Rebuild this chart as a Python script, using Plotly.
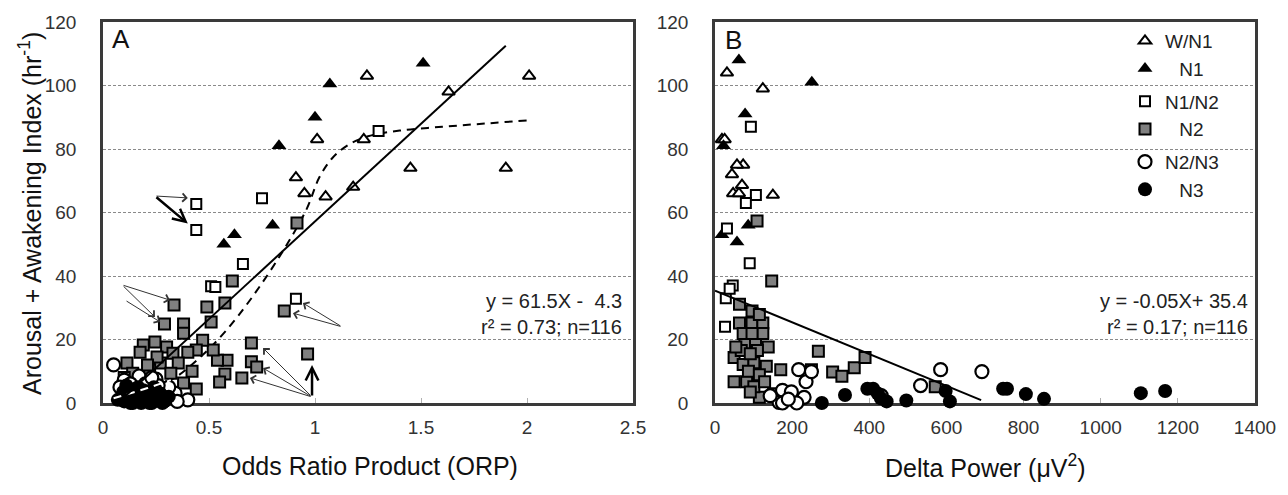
import plotly.graph_objects as go

# ---------------- Panel A : ORP ----------------
a_wn1_x = [1.245, 2.01, 1.63, 1.01, 1.23, 0.91, 0.95, 1.05, 1.18, 1.45, 1.90]
a_wn1_y = [103, 103, 98, 83, 83, 71, 66, 65, 68, 74, 74]
a_n1_x = [1.07, 1.51, 1.00, 0.83, 0.80, 0.57, 0.62]
a_n1_y = [100.5, 107, 90, 81, 56, 50, 53]
a_n1n2_x = [0.44, 0.44, 0.75, 0.66, 0.51, 0.53, 0.91, 1.30]
a_n1n2_y = [62.7, 54.5, 64.5, 43.8, 36.8, 36.5, 32.8, 85.7]
a_n2_x = [0.915, 0.61, 0.575, 0.49, 0.51, 0.335, 0.29, 0.38, 0.38, 0.855, 0.70, 0.70, 0.725,
          0.655, 0.965, 0.585, 0.575, 0.55, 0.54, 0.52, 0.47, 0.44, 0.40, 0.44, 0.245, 0.19,
          0.175, 0.30, 0.33, 0.355, 0.27, 0.113, 0.14, 0.22, 0.32, 0.38, 0.10, 0.255, 0.21, 0.42]
a_n2_y = [56.7, 38.4, 31.5, 30.2, 25.5, 30.9, 24.9, 24.9, 22, 29, 18.9, 13, 11.3,
          7.9, 15.4, 13.5, 9.1, 6.6, 13.5, 16.7, 19.8, 16.7, 16, 4.4, 19.2, 18.3,
          16, 17.6, 15.7, 12.6, 12.6, 12.6, 9.4, 10.4, 9.4, 6.3, 8, 14.5, 12, 10]
a_n2n3_x = [0.05, 0.40, 0.34, 0.31, 0.10, 0.17, 0.25, 0.20, 0.12, 0.08, 0.28, 0.22, 0.15, 0.35,
            0.13, 0.18, 0.26, 0.23]
a_n2n3_y = [12, 1, 3.1, 5, 7.2, 8.5, 7.5, 6, 4, 5, 2, 2, 1, 0.5,
            6, 3, 5.5, 8]
a_n3_x = [0.095, 0.12, 0.20, 0.23, 0.165, 0.25, 0.09, 0.15, 0.215, 0.26, 0.31, 0.11, 0.18, 0.28,
          0.24, 0.22, 0.13, 0.07, 0.14, 0.17, 0.19, 0.27, 0.10, 0.205, 0.29]
a_n3_y = [3.5, 1, 1, 0, 5, 4, 2, 2.5, 3.5, 1, 2, 5.5, 0, 0,
          5, 0, 0, 1, 0, 2, 4, 3, 0.5, 3, 0.5]

fitA_x = [0.07, 1.90]
fitA_y = [0.0, 112.55]
sigA_x = [0.05, 0.21, 0.32, 0.46, 0.57, 0.70, 0.85, 0.96, 1.02, 1.08, 1.15, 1.25, 1.40, 1.60, 1.80, 2.00]
sigA_y = [1.5, 4.7, 7.2, 14.5, 22, 33, 48, 61, 71, 77, 81, 84, 85.8, 87, 88, 89]

# ---------------- Panel B : Delta power ----------------
b_wn1_x = [31, 124, 18, 25, 73, 57, 44, 70, 47, 150, 62]
b_wn1_y = [104, 99, 83, 83, 75, 75, 72, 68.6, 66, 65.5, 66]
b_n1_x = [62, 251, 78, 22, 86, 18, 57]
b_n1_y = [108, 101, 91, 81, 56, 53, 50.7]
b_n1n2_x = [93, 106, 80, 31, 90, 28, 46, 38, 26]
b_n1n2_y = [87, 65.5, 63, 55, 44, 33, 37, 36, 24]
b_n2_x = [147, 63.5, 96, 96, 63.5, 124, 77.5, 105, 138, 49.5, 73, 100.7, 133, 170.5, 268, 305, 329,
          361, 389, 571, 250, 49.5, 82, 115, 152, 100.7, 86.7, 110, 68, 54, 91.5, 115, 128.6, 91.5,
          73, 124, 96, 115, 109]
b_n2_y = [38.4, 31.1, 29, 25.2, 25.2, 25.2, 18.6, 19.2, 17.6, 14.3, 12.1, 12.7, 11.6, 10.5, 16.3, 9.8, 8.4,
          11.1, 14.3, 5.1, 10.5, 6.7, 6.7, 1.8, 2.9, 5.1, 10, 16.5, 16.5, 17.6, 15.5, 8.9, 6.7, 3.5,
          21.9, 21.9, 21.9, 27.9, 57.3]
b_n2n3_x = [217, 236, 250, 585, 692, 533, 431, 175, 198, 231, 166, 212, 175, 190, 143]
b_n2n3_y = [10.5, 6.7, 9.9, 10.5, 9.9, 5.5, 2.3, 4, 3.5, 1.8, 0.2, 0, 0, 1.2, 2.3]
b_n3_x = [277, 337, 395, 410, 422, 445, 496, 598, 609, 747, 757, 806, 853, 1104, 1167, 430]
b_n3_y = [0, 2.5, 4.5, 4.5, 3, 0.5, 0.8, 3.8, 0.5, 4.5, 4.5, 2.8, 1.3, 3.1, 3.8, 1.5]

fitB_x = [0, 690]
fitB_y = [35.4, 0.9]

# arrows in panel A (tail -> head, data units)
thin_tail_x = [0.245, 0.09, 0.09, 0.104, 1.127, 1.127, 0.986, 0.986, 0.986]
thin_tail_y = [65.2, 37.2, 37.2, 32.4, 24.0, 24.0, 1.9, 1.9, 1.9]
thin_head_x = [0.40, 0.316, 0.245, 0.27, 0.943, 0.896, 0.755, 0.755, 0.693]
thin_head_y = [64.6, 32.4, 27.1, 25.5, 31.5, 28.3, 17.3, 11.0, 7.9]
thick_tail_x = [0.245, 0.986]
thick_tail_y = [65.2, 1.9]
thick_head_x = [0.40, 0.986]
thick_head_y = [56.5, 12.0]

legend_names = ["W/N1", "N1", "N1/N2", "N2", "N2/N3", "N3"]
legend_indent = ["", "\u00a0\u00a0\u2009", "", "\u00a0\u00a0\u2009", "", "\u00a0\u00a0\u2009"]
legend_groups = ["tri", "tri", "sq", "sq", "circ", "circ"]

FONT = "Liberation Sans, Arial, sans-serif"
GREY = "#808080"

# The page body has an 8px default margin: the figure is 1280x487 and drawn at (8, 8).
W, H, OFF = 1280, 487, 8


def PX(px):
    return (px - OFF) / W


def PY(py):
    return 1 - (py - OFF) / H


styles = [
    dict(symbol="triangle-up", size=11, color="white", line=dict(color="black", width=2)),
    dict(symbol="triangle-up", size=13, color="black", line=dict(color="black", width=0)),
    dict(symbol="square", size=10, color="white", line=dict(color="black", width=2)),
    dict(symbol="square", size=11, color=GREY, line=dict(color="black", width=2)),
    dict(symbol="circle", size=13, color="white", line=dict(color="black", width=2.2)),
    dict(symbol="circle", size=14, color="black", line=dict(color="black", width=0)),
]

A_sets = [(a_wn1_x, a_wn1_y), (a_n1_x, a_n1_y), (a_n1n2_x, a_n1n2_y),
          (a_n2_x, a_n2_y), (a_n2n3_x, a_n2n3_y), (a_n3_x, a_n3_y)]
B_sets = [(b_wn1_x, b_wn1_y), (b_n1_x, b_n1_y), (b_n1n2_x, b_n1n2_y),
          (b_n2_x, b_n2_y), (b_n2n3_x, b_n2n3_y), (b_n3_x, b_n3_y)]

fig = go.Figure()

# dashed sigmoid curve (under markers)
fig.add_trace(go.Scatter(x=sigA_x, y=sigA_y, mode="lines", xaxis="x", yaxis="y",
                         line=dict(color="black", width=2, dash="8px,6px", shape="spline"),
                         showlegend=False, hoverinfo="skip"))

for i, (xs, ys) in enumerate(A_sets):
    fig.add_trace(go.Scatter(x=xs, y=ys, mode="markers", xaxis="x", yaxis="y",
                             marker=styles[i], cliponaxis=False, showlegend=False,
                             legendgroup=legend_groups[i]))
for i, (xs, ys) in enumerate(B_sets):
    fig.add_trace(go.Scatter(x=xs, y=ys, mode="markers", xaxis="x2", yaxis="y2",
                             marker=styles[i], cliponaxis=False,
                             name=legend_indent[i] + legend_names[i],
                             legendgroup=legend_groups[i], showlegend=True))

# white dashes of the curve over the dense cluster
fig.add_trace(go.Scatter(x=sigA_x[:3], y=sigA_y[:3], mode="lines", xaxis="x", yaxis="y",
                         line=dict(color="white", width=2, dash="8px,6px"),
                         showlegend=False, hoverinfo="skip"))
# regression lines
fig.add_trace(go.Scatter(x=fitA_x, y=fitA_y, mode="lines", xaxis="x", yaxis="y",
                         line=dict(color="black", width=2), showlegend=False, hoverinfo="skip"))
fig.add_trace(go.Scatter(x=fitB_x, y=fitB_y, mode="lines", xaxis="x2", yaxis="y2",
                         line=dict(color="black", width=2), showlegend=False, hoverinfo="skip"))

annotations = []
for tx, ty, hx, hy in zip(thin_tail_x, thin_tail_y, thin_head_x, thin_head_y):
    annotations.append(dict(x=hx, y=hy, ax=tx, ay=ty, xref="x", yref="y", axref="x", ayref="y",
                            text="", showarrow=True, arrowhead=4, arrowsize=1.6, arrowwidth=1,
                            arrowcolor="#333333"))
for tx, ty, hx, hy in zip(thick_tail_x, thick_tail_y, thick_head_x, thick_head_y):
    annotations.append(dict(x=hx, y=hy, ax=tx, ay=ty, xref="x", yref="y", axref="x", ayref="y",
                            text="", showarrow=True, arrowhead=5, arrowsize=1.0, arrowwidth=2.5,
                            arrowcolor="black"))

txt = dict(family=FONT, size=20, color="#222222")
annotations += [
    dict(text="A", x=PX(121), y=PY(39), xref="paper", yref="paper", xanchor="center",
         yanchor="middle", showarrow=False, font=dict(family=FONT, size=26, color="#111111")),
    dict(text="B", x=PX(733), y=PY(40), xref="paper", yref="paper", xanchor="center",
         yanchor="middle", showarrow=False, font=dict(family=FONT, size=26, color="#111111")),
    dict(text="y = 61.5X -  4.3", x=PX(624), y=PY(301), xref="paper", yref="paper",
         xanchor="right", yanchor="middle", showarrow=False, font=txt),
    dict(text="r² = 0.73; n=116", x=PX(624), y=PY(327), xref="paper", yref="paper",
         xanchor="right", yanchor="middle", showarrow=False, font=txt),
    dict(text="y = -0.05X+ 35.4", x=PX(1250), y=PY(301), xref="paper", yref="paper",
         xanchor="right", yanchor="middle", showarrow=False, font=txt),
    dict(text="r² = 0.17; n=116", x=PX(1250), y=PY(327), xref="paper", yref="paper",
         xanchor="right", yanchor="middle", showarrow=False, font=txt),
    dict(text="Odds Ratio Product (ORP)", x=PX(370), y=PY(466), xref="paper", yref="paper",
         xanchor="center", yanchor="middle", showarrow=False,
         font=dict(family=FONT, size=25, color="#111111")),
    dict(text="Delta Power (μV<sup>2</sup>)", x=PX(985), y=PY(466), xref="paper", yref="paper",
         xanchor="center", yanchor="middle", showarrow=False,
         font=dict(family=FONT, size=25, color="#111111")),
    dict(text="Arousal + Awakening Index (hr<sup>-1</sup>)", x=PX(30), y=PY(214),
         xref="paper", yref="paper", xanchor="center", yanchor="middle", textangle=-90,
         showarrow=False, font=dict(family=FONT, size=25, color="#111111")),
]

tickfont = dict(family=FONT, size=19, color="#333333")
common_x = dict(showline=True, mirror=True, linecolor="#3a3a3a", linewidth=2.5, showgrid=False,
                zeroline=False, ticks="inside", ticklen=5, tickwidth=1, tickcolor="#b0b0b0",
                tickfont=tickfont, ticklabelstandoff=5, layer="below traces", automargin=False)
common_y = dict(showline=True, mirror=True, linecolor="#3a3a3a", linewidth=2.5, showgrid=True,
                gridcolor="#8a8a8a", gridwidth=1, griddash="3px,2px", zeroline=False,
                range=[0, 120], dtick=20, tickfont=tickfont, ticks="", ticklabelstandoff=20,
                layer="below traces", automargin=False)

fig.update_layout(
    width=W, height=H, margin=dict(l=0, r=0, t=0, b=0, autoexpand=False),
    paper_bgcolor="white", plot_bgcolor="white",
    font=dict(family=FONT),
    xaxis=dict(domain=[PX(103), PX(633)], range=[0, 2.5], dtick=0.5, anchor="y", **common_x),
    yaxis=dict(domain=[PY(403), PY(22)], anchor="x", **common_y),
    xaxis2=dict(domain=[PX(715), PX(1255)], range=[0, 1400], dtick=200, anchor="y2", **common_x),
    yaxis2=dict(domain=[PY(403), PY(22)], anchor="x2", **common_y),
    legend=dict(x=PX(1125), y=PY(22), xanchor="left", yanchor="top",
                bgcolor="rgba(0,0,0,0)", font=dict(family=FONT, size=19, color="#222222"),
                traceorder="grouped", tracegroupgap=5, itemwidth=30),
    annotations=annotations,
)

fig.write_html("out.html")
